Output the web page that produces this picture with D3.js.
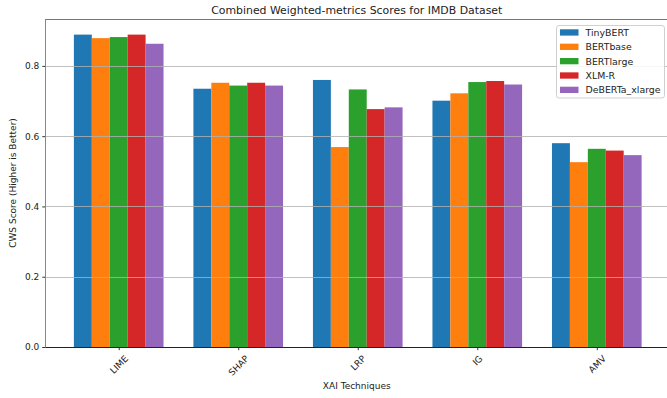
<!DOCTYPE html>
<html>
<head>
<meta charset="utf-8">
<script src="https://cdn.jsdelivr.net/npm/d3@7/dist/d3.min.js"></script>
<style>
  html, body { margin: 0; padding: 0; background: #fff; }
  svg { display: block; font-family: "DejaVu Sans", sans-serif; }
</style>
</head>
<body>
<svg id="chart" width="667" height="398"></svg>
<script>
// Combined weighted-metrics (CWS) scores per XAI technique and model
const techniques = ["LIME", "SHAP", "LRP", "IG", "AMV"];
const models = ["TinyBERT", "BERTbase", "BERTlarge", "XLM-R", "DeBERTa_xlarge"];
const tinyBERT = [0.889, 0.735, 0.760, 0.701, 0.580];
const bertBase = [0.879, 0.752, 0.569, 0.722, 0.526];
const bertLarge = [0.882, 0.744, 0.733, 0.754, 0.564];
const xlmR = [0.889, 0.752, 0.677, 0.757, 0.559];
const debertaXLarge = [0.863, 0.744, 0.682, 0.747, 0.546];
const yTicks = [0.0, 0.2, 0.4, 0.6, 0.8];
const colors = ["#1f77b4", "#ff7f0e", "#2ca02c", "#d62728", "#9467bd"];

const seriesValues = [tinyBERT, bertBase, bertLarge, xlmR, debertaXLarge];
const barWidth = 0.15;

const svg = d3.select("#chart");
const plot = { left: 45.5, right: 670, top: 19, bottom: 347 };

const maxVal = d3.max(seriesValues.flat());
const x = d3.scaleLinear()
  .domain([-2.5 * barWidth - 0.2375, techniques.length - 1 + 2.5 * barWidth + 0.2375])
  .range([plot.left, plot.right]);
const y = d3.scaleLinear().domain([0, maxVal * 1.05]).range([plot.bottom, plot.top]);

// bars
const bars = svg.append("g");
seriesValues.forEach((vals, j) => {
  bars.selectAll(null)
    .data(vals)
    .enter()
    .append("rect")
    .attr("x", (d, i) => x(i + (j - 2) * barWidth - barWidth / 2))
    .attr("width", (d, i) => x(i + (j - 2) * barWidth + barWidth / 2) - x(i + (j - 2) * barWidth - barWidth / 2))
    .attr("y", d => y(d))
    .attr("height", d => y(0) - y(d))
    .attr("fill", colors[j]);
});

// horizontal grid, drawn over the bars
svg.append("g")
  .selectAll("line")
  .data(yTicks.filter(t => t > 0))
  .enter()
  .append("line")
  .attr("x1", plot.left).attr("x2", plot.right)
  .attr("y1", d => Math.round(y(d)) + 0.5).attr("y2", d => Math.round(y(d)) + 0.5)
  .attr("stroke", "#b0b0b0")
  .attr("stroke-opacity", 0.8)
  .attr("stroke-width", 1);

// y axis
const yAxis = svg.append("g")
  .attr("transform", `translate(${plot.left},0)`)
  .call(d3.axisLeft(y).tickValues(yTicks).tickFormat(d3.format(".1f")).tickSize(3.2).tickPadding(3));
yAxis.select(".domain").remove();
yAxis.selectAll(".tick line").attr("stroke", "#333");
yAxis.selectAll(".tick text")
  .attr("font-size", 9)
  .attr("font-family", "DejaVu Sans")
  .attr("fill", "#222");

// x axis
const xAxis = svg.append("g")
  .attr("transform", `translate(0,${plot.bottom})`)
  .call(d3.axisBottom(x).tickValues(d3.range(techniques.length)).tickFormat(i => techniques[i]).tickSize(3.2));
xAxis.select(".domain").remove();
xAxis.selectAll(".tick line").attr("stroke", "#333");
xAxis.selectAll(".tick text")
  .attr("font-size", 9)
  .attr("font-family", "DejaVu Sans")
  .attr("fill", "#222")
  .attr("text-anchor", "middle")
  .attr("dominant-baseline", "central")
  .attr("dy", null)
  .each(function () {
    const w = this.getComputedTextLength();
    const h = 10.5;
    const half = (w + h) / (2 * Math.SQRT2);
    d3.select(this).attr("y", null)
      .attr("transform", `translate(0,${6.4 + half}) rotate(-45)`);
  });

// spines
const spines = svg.append("g").attr("fill", "none");
spines.append("line").attr("x1", plot.left).attr("x2", plot.left)
  .attr("y1", plot.top).attr("y2", plot.bottom).attr("stroke", "#888").attr("stroke-width", 1);
spines.append("line").attr("x1", plot.left).attr("x2", plot.right)
  .attr("y1", plot.top + 0.5).attr("y2", plot.top + 0.5).attr("stroke", "#777").attr("stroke-width", 1);
spines.append("line").attr("x1", plot.left).attr("x2", plot.right)
  .attr("y1", plot.bottom + 0.5).attr("y2", plot.bottom + 0.5).attr("stroke", "#222").attr("stroke-width", 1);

// title and axis labels
svg.append("text")
  .attr("x", (plot.left + plot.right) / 2 - 1)
  .attr("y", 14)
  .attr("text-anchor", "middle")
  .attr("font-size", 10.9)
  .attr("fill", "#222")
  .text("Combined Weighted-metrics Scores for IMDB Dataset");

svg.append("text")
  .attr("x", (plot.left + plot.right) / 2 - 1)
  .attr("y", 389)
  .attr("text-anchor", "middle")
  .attr("font-size", 9)
  .attr("fill", "#222")
  .text("XAI Techniques");

svg.append("text")
  .attr("transform", `translate(16,${(plot.top + plot.bottom) / 2}) rotate(-90)`)
  .attr("text-anchor", "middle")
  .attr("font-size", 9)
  .attr("fill", "#222")
  .text("CWS Score (Higher is Better)");

// legend
const legend = svg.append("g");
legend.append("rect")
  .attr("x", 556.5).attr("y", 25.5)
  .attr("width", 108).attr("height", 72.5)
  .attr("rx", 2.5)
  .attr("fill", "#fff").attr("fill-opacity", 0.85)
  .attr("stroke", "#d0d0d0").attr("stroke-width", 1);
const rows = legend.selectAll("g.row")
  .data(models)
  .enter()
  .append("g")
  .attr("class", "row")
  .attr("transform", (d, i) => `translate(0,${32.3 + i * 14.35})`);
rows.append("rect")
  .attr("x", 560).attr("y", -3)
  .attr("width", 18.5).attr("height", 6.3)
  .attr("fill", (d, i) => colors[i]);
rows.append("text")
  .attr("x", 585.5).attr("y", 0)
  .attr("dominant-baseline", "central")
  .attr("font-size", 9.4)
  .attr("fill", "#222")
  .text(d => d);
</script>
</body>
</html>
